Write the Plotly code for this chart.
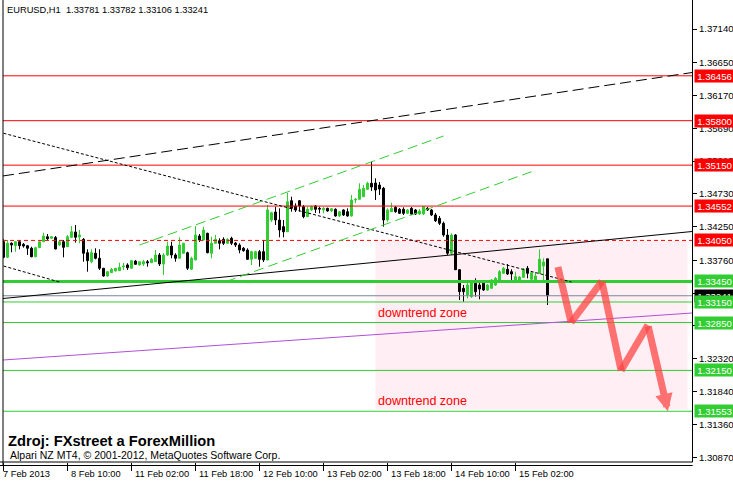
import plotly.graph_objects as go

# ---------------- data (EURUSD H1) ----------------
BAR = list(range(137))
OPEN = [1.34031,1.33803,1.34008,1.33973,1.34031,1.33993,1.33973,1.33935,1.33812,1.33944,
        1.34031,1.34104,1.34081,1.34093,1.33983,1.34031,1.33958,1.34096,1.34173,1.34100,
        1.34066,1.33870,1.33739,1.33862,1.33789,1.33643,1.33530,1.33578,1.33603,1.33607,
        1.33666,1.33691,1.33643,1.33749,1.33691,1.33705,1.33739,1.33724,1.33739,1.33837,
        1.33705,1.33837,1.33968,1.33837,1.33789,1.33862,1.33870,1.33628,1.33764,1.34115,
        1.34056,1.34154,1.33862,1.34008,1.34046,1.34066,1.34008,1.34081,1.34012,1.33983,
        1.33935,1.33910,1.33774,1.33789,1.33885,1.33885,1.33764,1.34348,1.34465,1.34348,
        1.34251,1.34177,1.34630,1.34553,1.34630,1.34543,1.34397,1.34495,1.34553,1.34519,
        1.34495,1.34519,1.34480,1.34505,1.34407,1.34495,1.34470,1.34407,1.34641,1.34651,
        1.34689,1.34797,1.34885,1.34889,1.34860,1.34812,1.34348,1.34470,1.34534,1.34505,
        1.34505,1.34446,1.34519,1.34495,1.34436,1.34436,1.34519,1.34495,1.34422,1.34373,
        1.34300,1.34129,1.33862,1.34129,1.33622,1.33350,1.33252,1.33228,1.33423,1.33398,
        1.33423,1.33325,1.33350,1.33398,1.33471,1.33569,1.33628,1.33593,1.33471,1.33471,
        1.33510,1.33643,1.33481,1.33471,1.33569,1.33676,1.33781]
HIGH = [1.34066,1.34056,1.34023,1.34041,1.34056,1.34012,1.33983,1.33958,1.33958,1.34031,
        1.34163,1.34144,1.34115,1.34115,1.34041,1.34056,1.34129,1.34261,1.34275,1.34202,
        1.34085,1.33920,1.33920,1.33935,1.33920,1.33647,1.33600,1.33647,1.33647,1.33724,
        1.33724,1.33716,1.33760,1.33764,1.33745,1.33764,1.33764,1.33793,1.33910,1.33866,
        1.33866,1.34031,1.34031,1.33862,1.34096,1.34017,1.33885,1.33812,1.34261,1.34144,
        1.34251,1.34163,1.34104,1.34129,1.34081,1.34096,1.34081,1.34104,1.34027,1.34008,
        1.33954,1.33935,1.33900,1.33900,1.33910,1.34056,1.34568,1.34470,1.34543,1.34519,
        1.34348,1.34747,1.34689,1.34592,1.34641,1.34568,1.34538,1.34558,1.34568,1.34543,
        1.34538,1.34528,1.34524,1.34519,1.34480,1.34505,1.34519,1.34714,1.34670,1.34885,
        1.34860,1.34908,1.35200,1.34958,1.34904,1.34831,1.34519,1.34601,1.34553,1.34524,
        1.34534,1.34509,1.34538,1.34509,1.34509,1.34553,1.34538,1.34509,1.34451,1.34407,
        1.34324,1.34217,1.34154,1.34144,1.33625,1.33398,1.33447,1.33471,1.33496,1.33471,
        1.33442,1.33413,1.33486,1.33515,1.33618,1.33662,1.33705,1.33628,1.33593,1.33530,
        1.33647,1.33676,1.33603,1.33588,1.33920,1.33789,1.33782]
LOW = [1.33789,1.33793,1.33876,1.33885,1.33920,1.33944,1.33837,1.33803,1.33803,1.33940,
       1.34025,1.34056,1.34075,1.33920,1.33968,1.33803,1.33954,1.34085,1.34017,1.34008,
       1.33739,1.33593,1.33716,1.33774,1.33618,1.33520,1.33520,1.33574,1.33598,1.33603,
       1.33618,1.33618,1.33640,1.33691,1.33685,1.33676,1.33666,1.33720,1.33735,1.33676,
       1.33545,1.33822,1.33789,1.33739,1.33785,1.33855,1.33618,1.33618,1.33760,1.34027,
       1.34050,1.33862,1.33789,1.33998,1.33920,1.33983,1.33998,1.33983,1.33954,1.33862,
       1.33885,1.33764,1.33691,1.33778,1.33666,1.33735,1.33760,1.34319,1.34275,1.34096,
       1.34096,1.34173,1.34470,1.34465,1.34470,1.34373,1.34392,1.34480,1.34451,1.34446,
       1.34446,1.34470,1.34465,1.34397,1.34392,1.34407,1.34397,1.34397,1.34597,1.34645,
       1.34684,1.34787,1.34773,1.34641,1.34714,1.34251,1.34324,1.34465,1.34455,1.34436,
       1.34422,1.34436,1.34422,1.34422,1.34422,1.34422,1.34480,1.34407,1.34319,1.34275,
       1.34104,1.33837,1.33837,1.33618,1.33179,1.33154,1.33203,1.33208,1.33228,1.33189,
       1.33311,1.33311,1.33340,1.33384,1.33457,1.33559,1.33545,1.33471,1.33466,1.33457,
       1.33501,1.33496,1.33471,1.33457,1.33559,1.33471,1.33106]
CLOSE = [1.33803,1.34008,1.33983,1.34031,1.33973,1.33968,1.33935,1.33812,1.33944,1.34031,
         1.34115,1.34075,1.34104,1.33925,1.34031,1.33949,1.34104,1.34177,1.34096,1.34130,
         1.33862,1.33754,1.33870,1.33789,1.33643,1.33530,1.33593,1.33628,1.33643,1.33657,
         1.33676,1.33651,1.33754,1.33701,1.33739,1.33739,1.33724,1.33774,1.33837,1.33705,
         1.33837,1.33968,1.33837,1.33789,1.33983,1.34008,1.33643,1.33789,1.34129,1.34056,
         1.34202,1.33870,1.34008,1.34066,1.34008,1.34008,1.34066,1.34008,1.33983,1.33910,
         1.33900,1.33774,1.33885,1.33885,1.33774,1.33764,1.34495,1.34455,1.34348,1.34202,
         1.34177,1.34616,1.34519,1.34495,1.34553,1.34397,1.34505,1.34543,1.34505,1.34509,
         1.34519,1.34480,1.34514,1.34407,1.34470,1.34422,1.34407,1.34641,1.34651,1.34797,
         1.34812,1.34885,1.34831,1.34787,1.34801,1.34348,1.34495,1.34519,1.34470,1.34446,
         1.34446,1.34495,1.34436,1.34436,1.34480,1.34543,1.34495,1.34422,1.34338,1.34300,
         1.34129,1.33862,1.34129,1.33622,1.33301,1.33301,1.33398,1.33447,1.33301,1.33340,
         1.33325,1.33398,1.33471,1.33496,1.33593,1.33643,1.33559,1.33559,1.33520,1.33515,
         1.33628,1.33569,1.33578,1.33530,1.33774,1.33735,1.33241]

X_TICK_BARS = [0, 16, 32, 48, 64, 80, 96, 112, 128]
X_TICK_TEXT = ["7 Feb 2013", "8 Feb 10:00", "11 Feb 02:00", "11 Feb 18:00", "12 Feb 10:00",
               "13 Feb 02:00", "13 Feb 18:00", "14 Feb 10:00", "15 Feb 02:00"]
Y_TICKS = [1.37140, 1.36650, 1.36170, 1.35690, 1.35210, 1.34730, 1.34250, 1.33760,
           1.33280, 1.32800, 1.32320, 1.31840, 1.31360, 1.30870]

RED_LEVELS = [1.36456, 1.35800, 1.35150, 1.34552]
RED_DASH_LEVEL = 1.34050
GREEN_LEVELS = [1.33450, 1.33150, 1.32850, 1.32150, 1.31553]
GREEN_WIDTHS = [3, 1, 1, 1, 1]
BID = 1.33241

# trend lines: (bar0, price0, bar1, price1)
BLACK_DASH_LINE = (-0.125, 1.34992, 172.125, 1.36504)
BLACK_SOLID_LINE = (-0.125, 1.33201, 172.125, 1.34180)
BLACK_DOT_LINE = (0, 1.35616, 142, 1.33442)
BLACK_DOT_LINE2 = (0, 1.33676, 14, 1.33442)
GREEN_CH_UP = (34, 1.33983, 110, 1.35576)
GREEN_CH_LO = (55.6, 1.33447, 132, 1.35054)
PURPLE_LINE = (-0.125, 1.32302, 172.125, 1.32989)
ZONE = (93, 1.34050, 171, 1.31580)
ZONE_TEXT_PRICES = [1.32989, 1.31703]
ARROW_BARS = [138.6, 141.9, 149.6, 154.4, 161.1, 166.1]
ARROW_PRICES = [1.33661, 1.32850, 1.33450, 1.32150, 1.32814, 1.31553]

X_RANGE = [-0.125, 172.125]
Y_RANGE = [1.308113, 1.375639]

FONT = "Liberation Sans, Arial, sans-serif"
LIME = "#32CD32"

fig = go.Figure()

fig.add_trace(go.Candlestick(
    x=BAR, open=OPEN, high=HIGH, low=LOW, close=CLOSE,
    increasing=dict(line=dict(color=LIME, width=1), fillcolor=LIME),
    decreasing=dict(line=dict(color="black", width=1), fillcolor="black"),
    whiskerwidth=0, showlegend=False, hoverinfo="skip"))

shapes = []
# pink zone
shapes.append(dict(type="rect", xref="x", yref="y", x0=ZONE[0], x1=ZONE[2], y0=ZONE[1], y1=ZONE[3],
                   fillcolor="#FFEEF3", line=dict(width=0), layer="below"))

def seg(l, color, width=1, dash="solid"):
    return dict(type="line", xref="x", yref="y", x0=l[0], y0=l[1], x1=l[2], y1=l[3],
                line=dict(color=color, width=width, dash=dash))

def hline(p, color, width=1, dash="solid"):
    return dict(type="line", xref="paper", yref="y", x0=0, x1=1, y0=p, y1=p,
                line=dict(color=color, width=width, dash=dash))

for p in RED_LEVELS:
    shapes.append(hline(p, "#FF0000"))
shapes.append(hline(RED_DASH_LEVEL, "#FF0000", 1, "4px,3px"))
shapes.append(hline(BID, "#778899"))
for p, w in zip(GREEN_LEVELS, GREEN_WIDTHS):
    shapes.append(hline(p, LIME, w))

shapes.append(seg(BLACK_DASH_LINE, "black", 1, "11px,5px"))
shapes.append(seg(BLACK_SOLID_LINE, "black", 1))
shapes.append(seg(BLACK_DOT_LINE, "black", 1, "3px,2px"))
shapes.append(seg(BLACK_DOT_LINE2, "black", 1, "3px,2px"))
shapes.append(seg(GREEN_CH_UP, LIME, 1, "10px,5px"))
shapes.append(seg(GREEN_CH_LO, LIME, 1, "10px,5px"))
shapes.append(seg(PURPLE_LINE, "#B050D8", 1))

# zigzag arrow segments
ARROW_COLOR = "rgba(255,70,70,0.75)"
for k in range(len(ARROW_BARS) - 2):
    shapes.append(dict(type="line", xref="x", yref="y",
                       x0=ARROW_BARS[k], y0=ARROW_PRICES[k], x1=ARROW_BARS[k + 1], y1=ARROW_PRICES[k + 1],
                       line=dict(color=ARROW_COLOR, width=7)))

# frame lines
shapes.append(dict(type="line", xref="paper", yref="paper", x0=0, x1=0, y0=-0.0076, y1=1,
                   line=dict(color="black", width=1)))
for yb in (0, -0.0076):
    shapes.append(dict(type="line", xref="paper", yref="paper", x0=-0.0044, x1=1.001, y0=yb, y1=yb,
                       line=dict(color="black", width=1)))

annotations = []
# last arrow segment with head
annotations.append(dict(x=ARROW_BARS[-1], y=ARROW_PRICES[-1], ax=ARROW_BARS[-2], ay=ARROW_PRICES[-2],
                        xref="x", yref="y", axref="x", ayref="y", text="", showarrow=True,
                        arrowhead=2, arrowsize=0.5, arrowwidth=7, arrowcolor=ARROW_COLOR, standoff=0))

def price_label(p, bg):
    return dict(xref="paper", x=1, xanchor="left", xshift=2, yref="y", y=p, yanchor="middle",
                text="%.5f" % p, showarrow=False, bgcolor=bg, width=39, height=12, borderpad=0,
                align="center", font=dict(family=FONT, size=9.6, color="white"))

for p in RED_LEVELS + [RED_DASH_LEVEL]:
    annotations.append(price_label(p, "#FF0000"))
annotations.append(price_label(BID, "black"))
for p in GREEN_LEVELS:
    annotations.append(price_label(p, LIME))

for p in ZONE_TEXT_PRICES:
    annotations.append(dict(xref="x", x=ZONE[0], xanchor="left", xshift=1, yref="y", y=p, yanchor="middle",
                            text="downtrend zone", showarrow=False, borderpad=0,
                            font=dict(family=FONT, size=12.5, color="#FF0000")))

for i, (b, t) in enumerate(zip(X_TICK_BARS, X_TICK_TEXT)):
    annotations.append(dict(xref="x", x=b, xanchor="left", xshift=(-2 if i == 0 else 2),
                            yref="paper", y=0, yanchor="middle", yshift=-11.5,
                            text=t, showarrow=False, borderpad=0,
                            font=dict(family=FONT, size=9.3, color="black")))

annotations.append(dict(xref="paper", x=0, xanchor="left", xshift=3, yref="paper", y=1, yanchor="middle",
                        yshift=-10, text="EURUSD,H1  1.33781 1.33782 1.33106 1.33241", showarrow=False,
                        borderpad=0, font=dict(family=FONT, size=9.3, color="black")))
annotations.append(dict(xref="paper", x=0, xanchor="left", xshift=4, yref="paper", y=0, yanchor="middle",
                        yshift=21, text="<b>Zdroj: FXstreet a ForexMillion</b>", showarrow=False,
                        borderpad=0, font=dict(family=FONT, size=14.7, color="black")))
annotations.append(dict(xref="paper", x=0, xanchor="left", xshift=6, yref="paper", y=0, yanchor="middle",
                        yshift=7, text="Alpari NZ MT4, © 2001-2012, MetaQuotes Software Corp.", showarrow=False,
                        borderpad=0, font=dict(family=FONT, size=10.5, color="black")))

fig.update_layout(
    width=733, height=482,
    margin=dict(l=3, r=41, t=0, b=20),
    paper_bgcolor="white", plot_bgcolor="white",
    showlegend=False, hovermode=False,
    shapes=shapes, annotations=annotations,
    font=dict(family=FONT, size=9, color="black"),
    xaxis=dict(range=X_RANGE, showgrid=False, zeroline=False, showline=False,
               tickvals=X_TICK_BARS, ticks="outside", ticklen=8, tickcolor="black",
               showticklabels=False, rangeslider=dict(visible=False), fixedrange=True),
    yaxis=dict(range=Y_RANGE, side="right", showgrid=False, zeroline=False,
               showline=True, linecolor="black", linewidth=1,
               tickvals=Y_TICKS, ticktext=["%.5f" % v for v in Y_TICKS],
               ticks="outside", ticklen=4, tickcolor="black",
               tickfont=dict(family=FONT, size=9.6, color="black"), fixedrange=True),
)

fig.write_html("out.html", config={"displayModeBar": False},
               post_script="document.body.style.margin='0';document.body.style.overflow='hidden';")
